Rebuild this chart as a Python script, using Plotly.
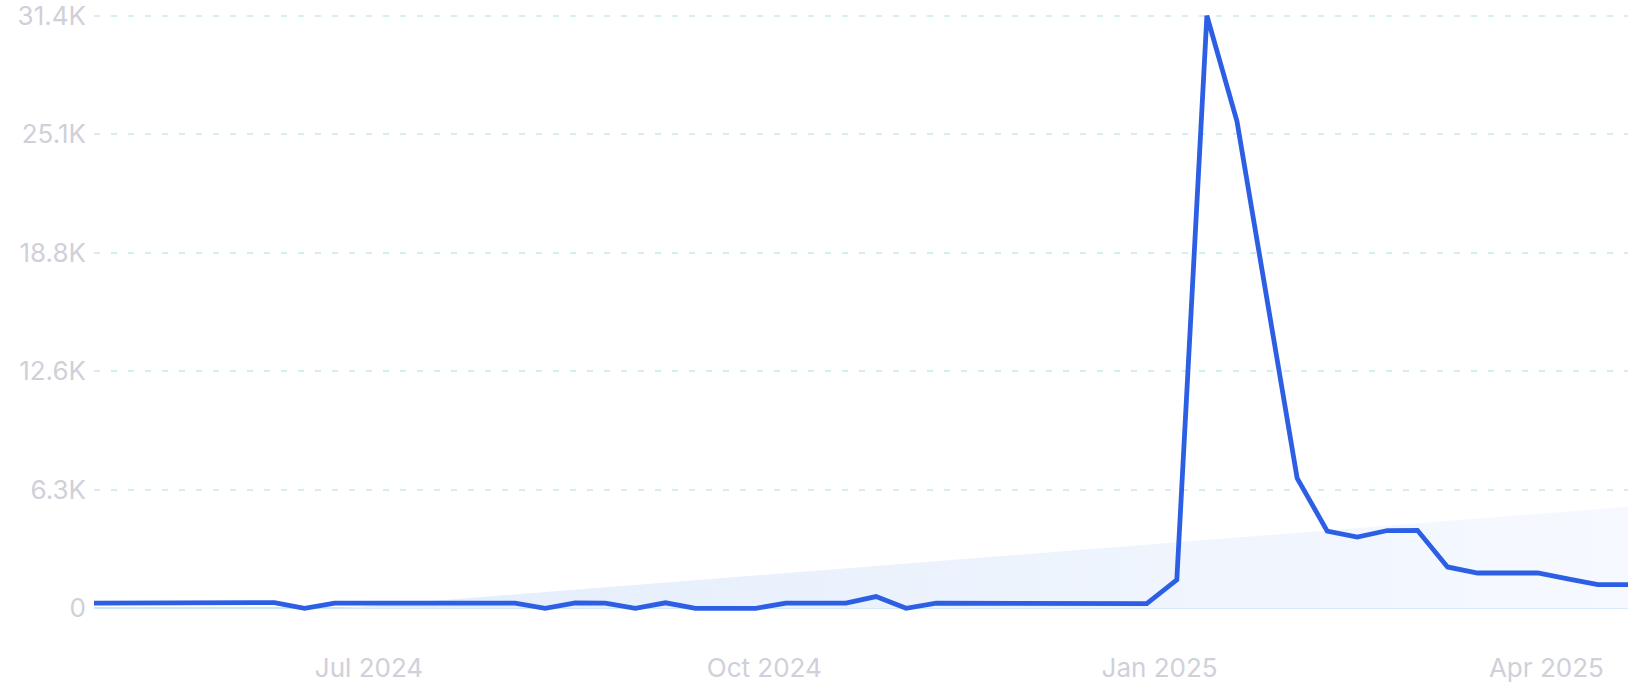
import pandas as pd
import plotly.graph_objects as go

# weekly points, Apr 28 2024 .. Apr 20 2025
weeks = pd.date_range("2024-04-28", periods=52, freq="7D")
searches = [
    270, 270, 270, 270, 270, 270, 300, 0, 270, 270,
    270, 270, 270, 270, 270, 0, 280, 270, 0, 290,
    0, 0, 0, 270, 270, 270, 620, 0, 270, 270,
    270, 270, 270, 270, 270, 250, 1510, 31400, 25800, 16300,
    6900, 4090, 3770, 4120, 4130, 2190, 1870, 1870, 1870, 1560,
    1250, 1250,
]

# shaded trend area (start and end)
trend_dates = ["2024-06-24", "2025-04-20"]
trend_values = [0, 5380]

y_ticks = [0, 6280, 12560, 18840, 25120, 31400]
y_labels = ["0", "6.3K", "12.6K", "18.8K", "25.1K", "31.4K"]
x_ticks = ["2024-07-01", "2024-10-01", "2025-01-01", "2025-04-01"]
x_labels = ["Jul 2024", "Oct 2024", "Jan 2025", "Apr 2025"]

fig = go.Figure()
fig.add_trace(go.Scatter(
    x=trend_dates, y=trend_values,
    mode="lines", line=dict(width=0),
    fill="tozeroy",
    fillgradient=dict(type="horizontal",
                      colorscale=[[0, "#e3edfb"], [1, "#f6f9ff"]]),
    hoverinfo="skip",
))
fig.add_trace(go.Scatter(
    x=weeks, y=searches,
    mode="lines",
    line=dict(color="#2d5fe5", width=4.8),
))

fig.update_layout(
    width=1634, height=700,
    margin=dict(l=94, r=6, t=11, b=87),
    paper_bgcolor="white", plot_bgcolor="white",
    showlegend=False,
    font=dict(family="Inter", size=26, color="#cfd0d9"),
)
fig.update_xaxes(
    range=[weeks[0], weeks[-1]],
    tickvals=x_ticks, ticktext=x_labels,
    showgrid=False, zeroline=False, showline=False,
    ticks="", ticklabelstandoff=37, automargin=False,
)
fig.update_yaxes(
    range=[-250, 31650],
    tickvals=y_ticks, ticktext=y_labels,
    showgrid=True, gridcolor="#d7edf6", gridwidth=1.5, griddash="6px,11px",
    zeroline=True, zerolinecolor="#cde7f8", zerolinewidth=2,
    showline=False, ticks="", ticklabelstandoff=7, automargin=False,
    ticklabeloverflow="allow",
)

# drop the browser's default 8px body margin so the figure sits at the corner
fig.write_html("out.html", config={"displayModeBar": False},
               post_script="document.body.style.margin = '0';")
